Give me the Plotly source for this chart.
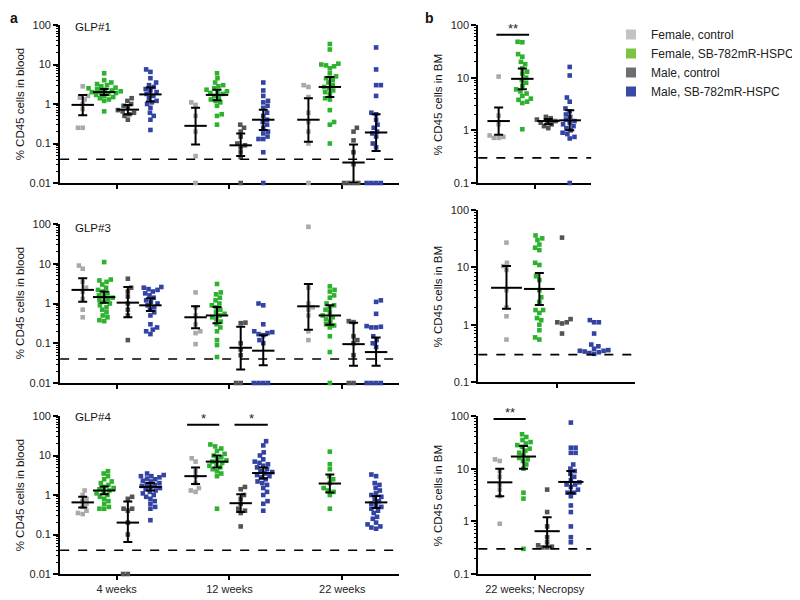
import math
import plotly.graph_objects as go

# ---------------- data ----------------
TIMEPOINTS = ["4 weeks", "12 weeks", "22 weeks"]
BM_TIMEPOINT = ["22 weeks; Necropsy"]
SERIES = ["Female, control", "Female, SB-782mR-HSPC", "Male, control", "Male, SB-782mR-HSPC"]
PANEL_NAMES = ["GLP#1", "GLP#3", "GLP#4"]
BLOOD_LOD = 0.04
BM_LOD = 0.3

# GLP#1, % CD45 cells in blood (one list per timepoint)
GLP1_F_CTRL = [[2.8, 1.6, 1.45, 1.3, 1.0, 0.75, 0.25, 0.25],
               [1.1, 0.95, 0.5, 0.2, 0.048, 0.01],
               [3.0, 2.7, 1.5, 0.6, 0.35, 0.2, 0.1, 0.01]]
GLP1_F_SB = [[6.0, 4.0, 3.5, 3.2, 3.0, 2.8, 2.6, 2.5, 2.4, 2.3, 2.2, 2.1, 2.0, 2.0, 1.9, 1.8, 1.7, 1.6, 1.5, 1.4, 1.3, 1.2, 0.65],
             [6.0, 4.5, 3.5, 3.0, 2.8, 2.5, 2.3, 2.1, 2.0, 1.9, 1.8, 1.6, 1.5, 1.3, 1.2, 1.1, 0.9, 0.55, 0.5, 0.3],
             [33, 24, 10.5, 10, 9.5, 9, 8, 6, 5, 4.5, 4, 3.5, 3, 2.7, 2.5, 2.2, 2, 1.8, 1.4, 1.3, 0.7, 0.35, 0.3, 0.1]]
GLP1_M_CTRL = [[1.4, 1.2, 1.0, 0.9, 0.8, 0.7, 0.65, 0.6, 0.55, 0.5, 0.4],
               [0.3, 0.25, 0.2, 0.15, 0.1, 0.09, 0.08, 0.06, 0.045, 0.01],
               [0.25, 0.2, 0.12, 0.06, 0.03, 0.01, 0.01, 0.01, 0.01]]
GLP1_M_SB = [[7.5, 6.5, 4.5, 3.5, 3.0, 2.7, 2.4, 2.2, 2.0, 1.8, 1.6, 1.4, 1.2, 1.1, 1.0, 0.8, 0.6, 0.5, 0.4, 0.22],
             [3.5, 2.2, 1.6, 1.2, 1.1, 0.9, 0.8, 0.6, 0.5, 0.4, 0.35, 0.3, 0.25, 0.2, 0.18, 0.15, 0.13, 0.13, 0.06, 0.01],
             [27, 7.5, 3.0, 3.0, 1.6, 0.6, 0.55, 0.4, 0.3, 0.25, 0.2, 0.18, 0.15, 0.1, 0.08, 0.01, 0.01, 0.01, 0.01]]
GLP1_MEAN = [[0.95, 2.0, 0.72, 1.75], [0.28, 1.7, 0.09, 0.4], [0.4, 2.7, 0.033, 0.19]]
GLP1_LO = [[0.52, 1.7, 0.55, 1.15], [0.095, 1.25, 0.048, 0.22], [0.11, 1.5, 0.01, 0.065]]
GLP1_HI = [[1.7, 2.4, 0.95, 2.6], [0.8, 2.3, 0.18, 0.72], [1.4, 4.8, 0.095, 0.55]]

# GLP#3, % CD45 cells in blood
GLP3_F_CTRL = [[9, 7.5, 3.5, 2.5, 2, 1.3, 0.7, 0.45],
               [1.9, 0.8, 0.5, 0.3, 0.2, 0.18, 0.095],
               [85, 2.5, 1.0, 0.8, 0.7, 0.5, 0.2, 0.12]]
GLP3_F_SB = [[11, 4, 3.8, 3.5, 3, 2.5, 2.2, 2, 1.8, 1.6, 1.5, 1.4, 1.3, 1.2, 1.1, 1.0, 0.9, 0.8, 0.7, 0.6, 0.5, 0.45, 0.38, 0.36],
             [3.1, 1.9, 1.7, 1.4, 1.2, 1.0, 0.9, 0.8, 0.7, 0.6, 0.55, 0.5, 0.45, 0.4, 0.35, 0.3, 0.25, 0.2, 0.12, 0.09, 0.045],
             [2.7, 2.2, 2.0, 1.6, 1.4, 1.0, 0.9, 0.8, 0.7, 0.6, 0.5, 0.45, 0.4, 0.35, 0.3, 0.28, 0.25, 0.15, 0.06, 0.01]]
GLP3_M_CTRL = [[4.2, 2.5, 2.0, 1.5, 1.0, 0.7, 0.5, 0.12],
               [0.33, 0.32, 0.1, 0.07, 0.05, 0.01, 0.01],
               [0.36, 0.34, 0.15, 0.12, 0.1, 0.05, 0.01, 0.01]]
GLP3_M_SB = [[2.6, 2.5, 2.3, 2.2, 2.0, 1.8, 1.6, 1.4, 1.2, 1.1, 1.0, 0.9, 0.8, 0.7, 0.6, 0.5, 0.3, 0.25, 0.22, 0.2, 0.17],
             [1.0, 0.9, 0.3, 0.2, 0.19, 0.18, 0.17, 0.16, 0.12, 0.1, 0.01, 0.01, 0.01, 0.01],
             [1.2, 1.1, 0.55, 0.27, 0.26, 0.25, 0.25, 0.15, 0.12, 0.1, 0.08, 0.01, 0.01, 0.01, 0.01]]
GLP3_MEAN = [[2.2, 1.45, 1.05, 0.9], [0.45, 0.5, 0.077, 0.065], [0.85, 0.5, 0.095, 0.06]]
GLP3_LO = [[1.1, 1.05, 0.45, 0.65], [0.24, 0.32, 0.022, 0.028], [0.22, 0.29, 0.027, 0.027]]
GLP3_HI = [[4.3, 2.0, 2.6, 1.35], [0.85, 0.82, 0.26, 0.16], [3.1, 0.9, 0.33, 0.14]]

# GLP#4, % CD45 cells in blood
GLP4_F_CTRL = [[1.3, 1.0, 0.8, 0.7, 0.6, 0.5, 0.4, 0.35, 0.33],
               [8.5, 7.0, 4.0, 3.0, 2.0, 1.5, 1.3, 1.2],
               []]
GLP4_F_SB = [[4, 3.5, 3, 2.5, 2.2, 2, 1.8, 1.6, 1.5, 1.4, 1.3, 1.2, 1.1, 1.0, 0.9, 0.8, 0.7, 0.6, 0.5, 0.45, 0.45],
             [19, 17, 15, 13, 11, 10, 9, 8, 7.5, 7, 6.5, 6, 5.5, 5, 4.5, 4, 3.5, 3, 0.45],
             [12.5, 6, 4.5, 3, 2.5, 2, 1.5, 1.3, 1.2, 1.0, 0.45]]
GLP4_M_CTRL = [[0.9, 0.8, 0.45, 0.45, 0.4, 0.2, 0.1, 0.01, 0.01],
               [1.6, 1.4, 1.0, 0.8, 0.6, 0.45, 0.4, 0.35, 0.16],
               []]
GLP4_M_SB = [[3.5, 3.2, 3, 3, 2.8, 2.6, 2.5, 2.3, 2.2, 2.0, 1.9, 1.8, 1.7, 1.6, 1.5, 1.4, 1.3, 1.2, 1.1, 1.0, 0.9, 0.8, 0.7, 0.6, 0.5, 0.45, 0.23],
             [23, 18, 12, 10, 8, 7, 6.5, 6, 5.5, 5, 4.5, 4, 3.8, 3.5, 3.2, 3, 2.8, 2.5, 2.2, 2, 1.8, 1.5, 1.2, 1.0, 0.7, 0.6, 0.4],
             [3.3, 3.0, 2.0, 1.8, 1.5, 1.3, 1.1, 1.0, 0.9, 0.8, 0.7, 0.6, 0.55, 0.5, 0.45, 0.4, 0.35, 0.28, 0.25, 0.2, 0.18, 0.16, 0.15, 0.14]]
GLP4_MEAN = [[0.65, 1.3, 0.2, 1.6], [3.0, 7.0, 0.62, 3.6], [None, 1.95, None, 0.65]]
GLP4_LO = [[0.48, 1.05, 0.065, 1.3], [1.9, 5.0, 0.37, 2.6], [None, 1.15, None, 0.47]]
GLP4_HI = [[0.9, 1.65, 0.68, 2.0], [5.0, 10, 1.05, 5.0], [None, 3.3, None, 0.95]]

# Bone marrow at necropsy (22 weeks), % CD45 cells in BM
BM1_F_CTRL = [10.5, 1.9, 1.3, 0.8, 0.75, 0.72, 0.72]
BM1_F_SB = [48, 47, 28, 25, 20, 18, 15, 13, 12, 10, 9, 8, 7, 6, 5.5, 5, 4.5, 4, 3.8, 3.5, 3.3, 1.05]
BM1_M_CTRL = [1.8, 1.7, 1.6, 1.5, 1.45, 1.4, 1.3, 1.2, 1.1]
BM1_M_SB = [16, 11, 4.2, 3.5, 2.6, 2.3, 2.0, 1.8, 1.6, 1.5, 1.4, 1.3, 1.2, 1.1, 1.0, 0.9, 0.85, 0.75, 0.7, 0.1]
BM1_MEAN = [1.5, 9.5, 1.5, 1.55]
BM1_LO = [0.82, 6.0, 1.3, 1.0]
BM1_HI = [2.7, 15, 1.65, 2.4]

BM3_F_CTRL = [27, 12, 10.5, 9, 4, 2, 1.4, 0.55]
BM3_F_SB = [36, 32, 30, 25, 22, 20, 12, 11, 7, 6, 4, 3, 2.5, 1.8, 1.8, 1.6, 1.3, 1.2, 1.0, 0.8, 0.6, 0.55]
BM3_M_CTRL = [33, 1.25, 1.1, 1.05, 1.1, 0.7]
BM3_M_SB = [1.2, 1.1, 1.1, 0.7, 0.45, 0.42, 0.38, 0.36, 0.35, 0.35, 0.34, 0.33, 0.32, 0.31]
BM3_MEAN = [4.4, 4.2, None, None]
BM3_LO = [1.9, 2.2, None, None]
BM3_HI = [10.5, 8.0, None, None]

BM4_F_CTRL = [15, 14, 9, 7, 5, 4, 3, 0.9]
BM4_F_SB = [45, 40, 35, 32, 30, 28, 26, 24, 22, 20, 18, 16, 15, 14, 12, 10, 3.5, 2.7, 0.3]
BM4_M_CTRL = [4, 1.5, 0.8, 0.5, 0.4, 0.35, 0.33, 0.32, 0.32]
BM4_M_SB = [75, 25, 25, 20, 20, 12, 10, 9, 8, 7, 6, 5.5, 5, 5, 4.5, 4, 3.5, 3.5, 3, 2, 1.5, 0.8, 0.5, 0.4]
BM4_MEAN = [5.5, 17, 0.65, 5.6]
BM4_LO = [3.0, 10, 0.33, 3.4]
BM4_HI = [10, 27, 1.2, 9.0]

# ---------------- styling / layout ----------------
# the page puts the figure 8 px in from the top-left corner of the window
OFF = 8
W, H = 800 - OFF, 600 - OFF
FONT = "Liberation Sans, Arial, sans-serif"
DOT_COLORS = ["#a9a9a9", "#2db22d", "#545454", "#3343a3"]
LEGEND_COLORS = ["#c3c3c3", "#7cc243", "#6e6e6e", "#3a49a8"]
BLOOD_OFFSETS = [-0.3, -0.11, 0.1, 0.3]


def px2x(p):
    return (p - OFF) / W


def px2y(p):
    return 1 - (p - OFF) / H


blood_panels = [
    dict(xa="x", ya="y", yd=(25, 183),
         data=[GLP1_F_CTRL, GLP1_F_SB, GLP1_M_CTRL, GLP1_M_SB], mean=GLP1_MEAN, lo=GLP1_LO, hi=GLP1_HI),
    dict(xa="x2", ya="y2", yd=(224, 383),
         data=[GLP3_F_CTRL, GLP3_F_SB, GLP3_M_CTRL, GLP3_M_SB], mean=GLP3_MEAN, lo=GLP3_LO, hi=GLP3_HI),
    dict(xa="x3", ya="y3", yd=(416, 574),
         data=[GLP4_F_CTRL, GLP4_F_SB, GLP4_M_CTRL, GLP4_M_SB], mean=GLP4_MEAN, lo=GLP4_LO, hi=GLP4_HI),
]
bm_panels = [
    dict(xa="x4", ya="y4", xd=(504, 623), yd=(25, 183), pos=[0.18, 0.39, 0.62, 0.81], mw=16,
         data=[BM1_F_CTRL, BM1_F_SB, BM1_M_CTRL, BM1_M_SB], mean=BM1_MEAN, lo=BM1_LO, hi=BM1_HI),
    dict(xa="x5", ya="y5", xd=(504, 669), yd=(210, 382), pos=[0.18, 0.39, 0.535, 0.74], mw=22,
         data=[BM3_F_CTRL, BM3_F_SB, BM3_M_CTRL, BM3_M_SB], mean=BM3_MEAN, lo=BM3_LO, hi=BM3_HI),
    dict(xa="x6", ya="y6", xd=(504, 623), yd=(416, 574), pos=[0.19, 0.4, 0.61, 0.82], mw=18,
         data=[BM4_F_CTRL, BM4_F_SB, BM4_M_CTRL, BM4_M_SB], mean=BM4_MEAN, lo=BM4_LO, hi=BM4_HI),
]


def swarm(vals, ppd, sep=4.9, step=0.5):
    """Deterministic beeswarm offsets (pixels) from the values."""
    ys = [math.log10(v) * ppd for v in vals]
    order = sorted(range(len(vals)), key=lambda i: ys[i])
    placed, off = [], [0.0] * len(vals)
    for n, i in enumerate(order):
        y = ys[i]
        k = 0
        found = None
        while found is None:
            if k == 0:
                cands = [0.0]
            else:
                cands = [k * step, -k * step] if n % 2 == 0 else [-k * step, k * step]
            for c in cands:
                if all((c - px) ** 2 + (y - py) ** 2 >= sep * sep for px, py in placed):
                    found = c
                    break
            k += 1
        off[i] = found
        placed.append((found, y))
    return off


fig = go.Figure()


def add_group(xa, ya, center, vals, color, ppu, ppd):
    if not vals:
        return
    offs = swarm(vals, ppd)
    fig.add_trace(go.Scatter(
        x=[center + o / ppu for o in offs], y=vals, xaxis=xa, yaxis=ya,
        mode="markers", marker=dict(symbol="square", size=4.6, color=color, line=dict(width=0)),
        showlegend=False, hoverinfo="skip", cliponaxis=False))


def add_mean(xa, ya, x, m, lo, hi, mw):
    if m is None:
        return
    fig.add_trace(go.Scatter(
        x=[x], y=[m], xaxis=xa, yaxis=ya, mode="markers",
        marker=dict(symbol="line-ew", size=mw, color="black", line=dict(width=2, color="black")),
        error_y=dict(type="data", symmetric=False, array=[hi - m], arrayminus=[m - lo],
                     color="black", thickness=2, width=4.5),
        showlegend=False, hoverinfo="skip", cliponaxis=False))


# blood panels: x range [0.5, 3.5] over 63..420 px
LX0, LX1 = 63, 420
for p in blood_panels:
    ppu = (LX1 - LX0) / 3.0
    ppd = (p["yd"][1] - p["yd"][0]) / 4.0
    for t in range(3):
        for s in range(4):
            add_group(p["xa"], p["ya"], t + 1 + BLOOD_OFFSETS[s], p["data"][s][t], DOT_COLORS[s], ppu, ppd)
    for t in range(3):
        for s in range(4):
            add_mean(p["xa"], p["ya"], t + 1 + BLOOD_OFFSETS[s], p["mean"][t][s], p["lo"][t][s], p["hi"][t][s], 16)

for p in bm_panels:
    ppu = (p["xd"][1] - p["xd"][0]) / 1.0
    ppd = (p["yd"][1] - p["yd"][0]) / 3.0
    for s in range(4):
        add_group(p["xa"], p["ya"], p["pos"][s], p["data"][s], DOT_COLORS[s], ppu, ppd)
    for s in range(4):
        add_mean(p["xa"], p["ya"], p["pos"][s], p["mean"][s], p["lo"][s], p["hi"][s], p["mw"])

# legend entries
for s in range(4):
    fig.add_trace(go.Scatter(x=[None], y=[None], xaxis="x4", yaxis="y4", mode="markers", name=SERIES[s],
                             marker=dict(symbol="square", size=10, color=LEGEND_COLORS[s]),
                             showlegend=True, hoverinfo="skip"))

minor_blood = [k * 10 ** d for d in range(-2, 2) for k in range(2, 10)]
minor_bm = [k * 10 ** d for d in range(-1, 2) for k in range(2, 10)]

axis_common = dict(showgrid=False, zeroline=False, showline=True, linecolor="black", linewidth=2,
                   ticks="outside", tickcolor="black", tickwidth=1.5, automargin=False,
                   tickfont=dict(family=FONT, size=11, color="#222"), layer="below traces")

layout = dict(width=W, height=H, margin=dict(l=0, r=0, t=0, b=0), plot_bgcolor="white",
              paper_bgcolor="white", font=dict(family=FONT, size=11, color="#222"))

for i, p in enumerate(blood_panels):
    n = "" if i == 0 else str(i + 1)
    layout["xaxis" + n] = dict(axis_common, domain=[px2x(LX0), px2x(LX1)], range=[0.5, 3.5],
                               anchor=p["ya"], tickvals=[1, 2, 3],
                               ticktext=TIMEPOINTS if i == 2 else ["", "", ""], ticklen=4)
    layout["yaxis" + n] = dict(axis_common, domain=[px2y(p["yd"][1]), px2y(p["yd"][0])], type="log",
                               range=[-2, 2], anchor=p["xa"], tickvals=[0.01, 0.1, 1, 10, 100],
                               ticktext=["0.01", "0.1", "1", "10", "100"], ticklen=5,
                               minor=dict(tickvals=minor_blood, ticks="outside", ticklen=2.5,
                                          tickwidth=1, tickcolor="black"))
for i, p in enumerate(bm_panels):
    n = str(i + 4)
    layout["xaxis" + n] = dict(axis_common, domain=[px2x(p["xd"][0]), px2x(p["xd"][1])], range=[0, 1],
                               anchor=p["ya"], tickvals=[0.5],
                               ticktext=BM_TIMEPOINT if i == 2 else [""], ticklen=4)
    layout["yaxis" + n] = dict(axis_common, domain=[px2y(p["yd"][1]), px2y(p["yd"][0])], type="log",
                               range=[-1, 2], anchor=p["xa"], tickvals=[0.1, 1, 10, 100],
                               ticktext=["0.1", "1", "10", "100"], ticklen=5,
                               minor=dict(tickvals=minor_bm, ticks="outside", ticklen=2.5,
                                          tickwidth=1, tickcolor="black"))

fig.update_layout(**layout)
fig.update_layout(legend=dict(x=px2x(644), y=px2y(20), xanchor="left", yanchor="top",
                              font=dict(family=FONT, size=12, color="#222"),
                              bgcolor="rgba(0,0,0,0)", itemwidth=30, tracegroupgap=0))

# detection-limit dashed lines
for p in blood_panels:
    fig.add_shape(type="line", xref=p["xa"] + " domain", yref=p["ya"], x0=0, x1=1,
                  y0=BLOOD_LOD, y1=BLOOD_LOD, line=dict(color="black", width=1.6, dash="dash"))
for p in bm_panels:
    fig.add_shape(type="line", xref=p["xa"] + " domain", yref=p["ya"], x0=0, x1=1,
                  y0=BM_LOD, y1=BM_LOD, line=dict(color="black", width=1.6, dash="dash"))


# significance bars
def sig(xa, ya, x0, x1, yv, text):
    fig.add_shape(type="line", xref=xa, yref=ya, x0=x0, x1=x1, y0=yv, y1=yv,
                  line=dict(color="black", width=2))
    fig.add_annotation(xref=xa, yref=ya, x=(x0 + x1) / 2, y=math.log10(yv), text=text, showarrow=False,
                       yanchor="bottom", yshift=-3, font=dict(family=FONT, size=13, color="#222"))


sig("x3", "y3", 2 + BLOOD_OFFSETS[0] - 0.075, 2 + BLOOD_OFFSETS[1] + 0.02, 60, "*")
sig("x3", "y3", 2 + BLOOD_OFFSETS[2] - 0.055, 2 + BLOOD_OFFSETS[3] + 0.04, 60, "*")
sig("x4", "y4", 0.16, 0.45, 65, "**")
sig("x6", "y6", 0.135, 0.42, 88, "**")


# text annotations
def label(x, y, text, size=11.5, bold=False, anchor="left", angle=0, vanchor="middle"):
    fig.add_annotation(xref="paper", yref="paper", x=px2x(x), y=px2y(y),
                       text=("<b>%s</b>" % text) if bold else text,
                       showarrow=False, xanchor=anchor, yanchor=vanchor, textangle=angle,
                       font=dict(family=FONT, size=size, color="#111"))


label(8, 8, "a", size=14, bold=True, vanchor="top")
label(446, 8, "b", size=14, bold=True, vanchor="top")
for name, y in zip(PANEL_NAMES, [27, 228, 417]):
    label(77, y, name, size=11.5)
for y in [104, 303, 495]:
    label(21, y, "% CD45 cells in blood", size=11.5, anchor="center", angle=-90)
for y in [104, 296, 495]:
    label(462, y, "% CD45 cells in BM", size=11.5, anchor="center", angle=-90)

fig.write_html("out.html")
